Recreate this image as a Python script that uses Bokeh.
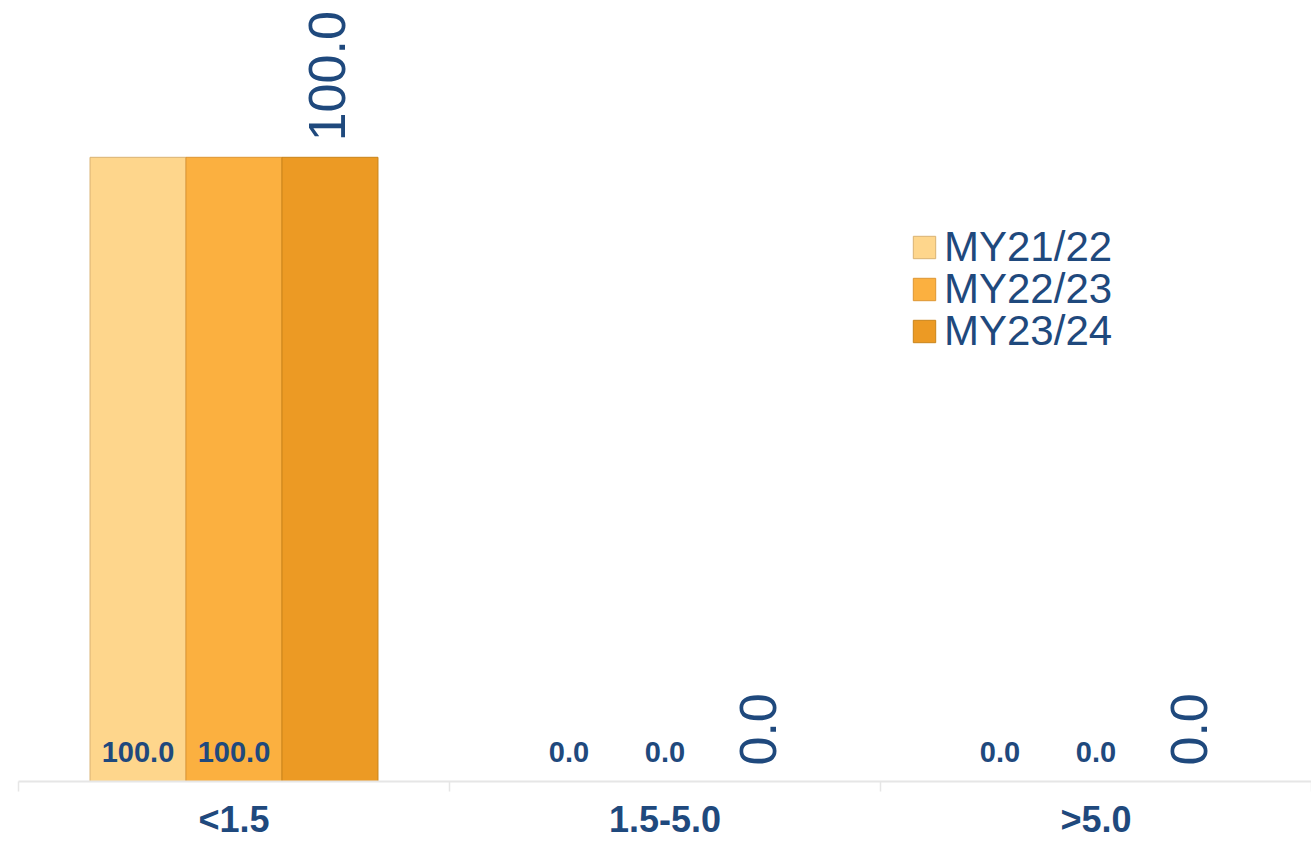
from bokeh.plotting import figure
from bokeh.models import (ColumnDataSource, Range1d, FixedTicker, LinearAxis,
                          LabelSet, Legend, LegendItem)
from bokeh.transform import dodge
from bokeh.core.properties import value
from bokeh.embed import file_html
from bokeh.resources import INLINE
import math

categories = ["<1.5", "1.5-5.0", ">5.0"]
series_names = ["MY21/22", "MY22/23", "MY23/24"]
my21_22 = [100.0, 0.0, 0.0]
my22_23 = [100.0, 0.0, 0.0]
my23_24 = [100.0, 0.0, 0.0]

colors = ["#FED68C", "#FBB040", "#EC9A24"]
edges = ["#D9B272", "#DD9532", "#C9841A"]
text_color = "#1F497D"
FONT = "Liberation Sans"

positions = [i + 0.5 for i in range(len(categories))]
src = ColumnDataSource(dict(
    x=positions,
    s1=my21_22, s2=my22_23, s3=my23_24,
    l1=[f"{v:.1f}" for v in my21_22],
    l2=[f"{v:.1f}" for v in my22_23],
    l3=[f"{v:.1f}" for v in my23_24],
))

p = figure(width=1311, height=842,
           x_range=Range1d(0, len(categories)), y_range=Range1d(0, 125.12),
           output_backend="svg", toolbar_location=None,
           x_axis_location=None, y_axis_location=None,
           min_border_left=18, min_border_right=0, min_border_top=0,
           min_border_bottom=60)
p.outline_line_color = None
p.grid.grid_line_color = None

bw = 0.2227
offsets = [-bw, 0.0, bw]
fields = ["s1", "s2", "s3"]
renderers = []
for k in range(3):
    r = p.vbar(x=dodge("x", offsets[k]), top=fields[k], width=bw, bottom=0,
               source=src, fill_color=colors[k], line_color=edges[k], line_width=1)
    renderers.append(r)

ax = LinearAxis(ticker=FixedTicker(ticks=positions,
                                   minor_ticks=list(range(len(categories) + 1))),
                major_label_overrides={pos: cat for pos, cat in zip(positions, categories)})
ax.axis_line_color = "#E6E6E6"
ax.axis_line_width = 2
ax.major_tick_line_color = None
ax.major_tick_out = 0
ax.major_tick_in = 0
ax.minor_tick_line_color = "#E6E6E6"
ax.minor_tick_line_width = 1.5
ax.minor_tick_out = 0
ax.minor_tick_in = -10
ax.major_label_text_font = FONT
ax.major_label_text_font_size = "36px"
ax.major_label_text_font_style = "bold"
ax.major_label_text_color = text_color
ax.major_label_standoff = 17
p.add_layout(ax, "below")

for k, lf in enumerate(["l1", "l2"]):
    ls = LabelSet(x=dodge("x", offsets[k]), y=0, text=lf, source=src,
                  text_align="center", text_baseline="alphabetic", y_offset=20,
                  text_font=value(FONT), text_font_size="29px",
                  text_font_style="bold", text_color=text_color)
    p.add_layout(ls)

ls3 = LabelSet(x=dodge("x", offsets[2]), y="s3", text="l3", source=src,
               angle=math.pi / 2, text_align="left", text_baseline="middle",
               x_offset=-3, y_offset=16, text_font=value(FONT), text_font_size="52px",
               text_color=text_color)
p.add_layout(ls3)

legend_y = [510, 468, 426]
for n, r, ly in zip(series_names, renderers, legend_y):
    legend = Legend(items=[LegendItem(label=n, renderers=[r])], location=(892, ly))
    legend.label_text_font = FONT
    legend.label_text_font_size = "42px"
    legend.label_text_color = text_color
    legend.glyph_width = 28
    legend.glyph_height = 28
    legend.label_standoff = 6
    legend.padding = 0
    legend.margin = 0
    legend.border_line_color = None
    legend.background_fill_alpha = 0
    p.add_layout(legend)

open("out.html", "w").write(file_html(p, INLINE))
